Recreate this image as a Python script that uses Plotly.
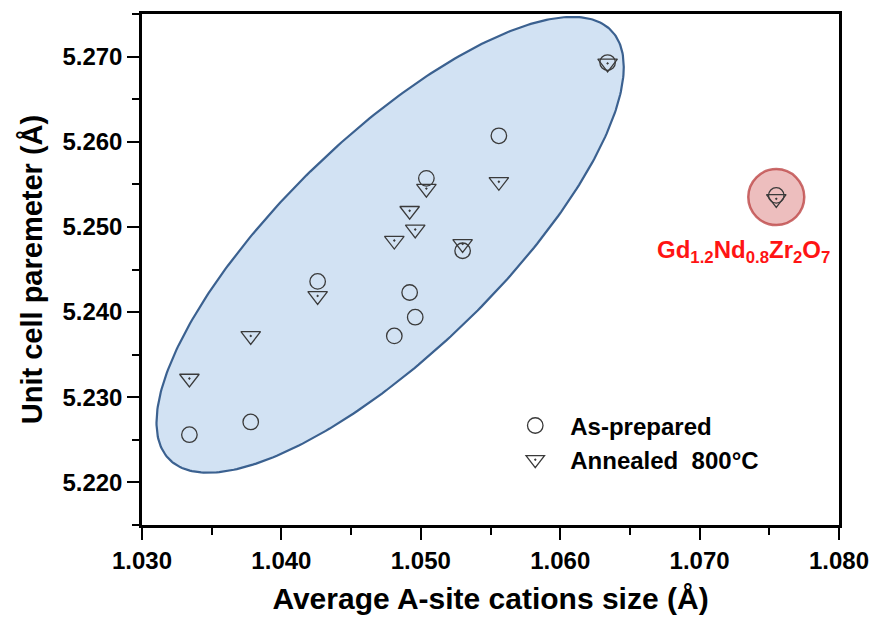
import numpy as np
import plotly.graph_objects as go

# Average A-site cation radius (Å) of each composition in the series
cation_size = [1.0334, 1.0378, 1.0426, 1.0481, 1.0492, 1.0496, 1.0504, 1.0530, 1.0556, 1.0634]
# Cubic lattice parameter (Å)
a_as_prepared = [5.2256, 5.2271, 5.2436, 5.2372, 5.2423, 5.2394, 5.2557, 5.2472, 5.2607, 5.2693]
a_annealed = [5.2322, 5.2372, 5.2419, 5.2484, 5.2519, 5.2497, 5.2545, 5.2480, 5.2553, 5.2692]

# Outlier composition Gd1.2Nd0.8Zr2O7
gdnd_size = 1.0755
gdnd_as_prepared = 5.2537
gdnd_annealed = 5.2533

x_ticks = [1.030, 1.040, 1.050, 1.060, 1.070, 1.080]
y_ticks = [5.220, 5.230, 5.240, 5.250, 5.260, 5.270]

# Trend envelope: centre, half-extents and correlation of the enclosing ellipse
env_cx, env_cy = 1.0478, 5.2479
env_hx, env_hy = 0.01676, 0.02676
env_rho = 0.78

FONT = "Liberation Sans, Arial, sans-serif"
MARK = "#3a3a3a"

t = np.linspace(0, 2 * np.pi, 361)
env_x = env_cx + env_hx * np.cos(t)
env_y = env_cy + env_hy * (env_rho * np.cos(t) + np.sqrt(1 - env_rho ** 2) * np.sin(t))

fig = go.Figure()

fig.add_trace(go.Scatter(
    x=env_x, y=env_y, mode="lines", fill="toself",
    fillcolor="#d2e2f3", line=dict(color="#3b6190", width=2.2),
    hoverinfo="skip", showlegend=False,
))

# highlight disc around the outlier
fig.add_trace(go.Scatter(
    x=[gdnd_size], y=[(gdnd_as_prepared + gdnd_annealed) / 2], mode="markers",
    marker=dict(symbol="circle", size=56, color="rgba(214,110,110,0.45)",
                line=dict(color="rgba(185,60,60,0.75)", width=2.5)),
    hoverinfo="skip", showlegend=False,
))

fig.add_trace(go.Scatter(
    x=cation_size + [gdnd_size], y=a_as_prepared + [gdnd_as_prepared],
    mode="markers", name="As-prepared",
    marker=dict(symbol="circle-open", size=15.5, color=MARK, line=dict(width=1.3, color=MARK)),
))
fig.add_trace(go.Scatter(
    x=cation_size + [gdnd_size], y=a_annealed + [gdnd_annealed],
    mode="markers", name="Annealed  800°C",
    marker=dict(symbol="triangle-down-open-dot", size=17, color=MARK, line=dict(width=1.3, color=MARK)),
))

fig.add_annotation(
    x=gdnd_size, y=gdnd_as_prepared, xref="x", yref="y",
    text="Gd<sub>1.2</sub>Nd<sub>0.8</sub>Zr<sub>2</sub>O<sub>7</sub>",
    showarrow=False, xshift=-33, yshift=-56,
    font=dict(family=FONT, size=24, color="#ff1414", weight="bold"),
)

axis_common = dict(
    showline=True, linecolor="black", linewidth=2.5, mirror=True,
    ticks="outside", ticklen=12, tickwidth=2, tickcolor="black",
    showgrid=False, zeroline=False,
    tickfont=dict(family=FONT, size=24, color="black", weight="bold"),
)

fig.update_xaxes(
    range=[1.030, 1.080], tickvals=x_ticks, tickformat=".3f",
    minor=dict(dtick=0.005, tick0=1.030, ticks="outside", ticklen=7, tickwidth=2, tickcolor="black"),
    title=dict(text="Average A-site cations size (Å)", standoff=16,
               font=dict(family=FONT, size=30, color="black", weight="bold")),
    **axis_common,
)
fig.update_yaxes(
    range=[5.215, 5.275], tickvals=y_ticks, tickformat=".3f",
    minor=dict(dtick=0.005, tick0=5.215, ticks="outside", ticklen=7, tickwidth=2, tickcolor="black"),
    title=dict(text="Unit cell paremeter (Å)", standoff=12,
               font=dict(family=FONT, size=29, color="black", weight="bold")),
    **axis_common,
)

fig.update_layout(
    width=880, height=622,
    margin=dict(l=142, r=34, t=11, b=92),
    plot_bgcolor="white", paper_bgcolor="white",
    legend=dict(x=0.514, y=0.238, xanchor="left", yanchor="top",
                bgcolor="rgba(0,0,0,0)", itemwidth=60, tracegroupgap=0,
                font=dict(family=FONT, size=24, color="black", weight="bold")),
)

fig.write_html("out.html")
